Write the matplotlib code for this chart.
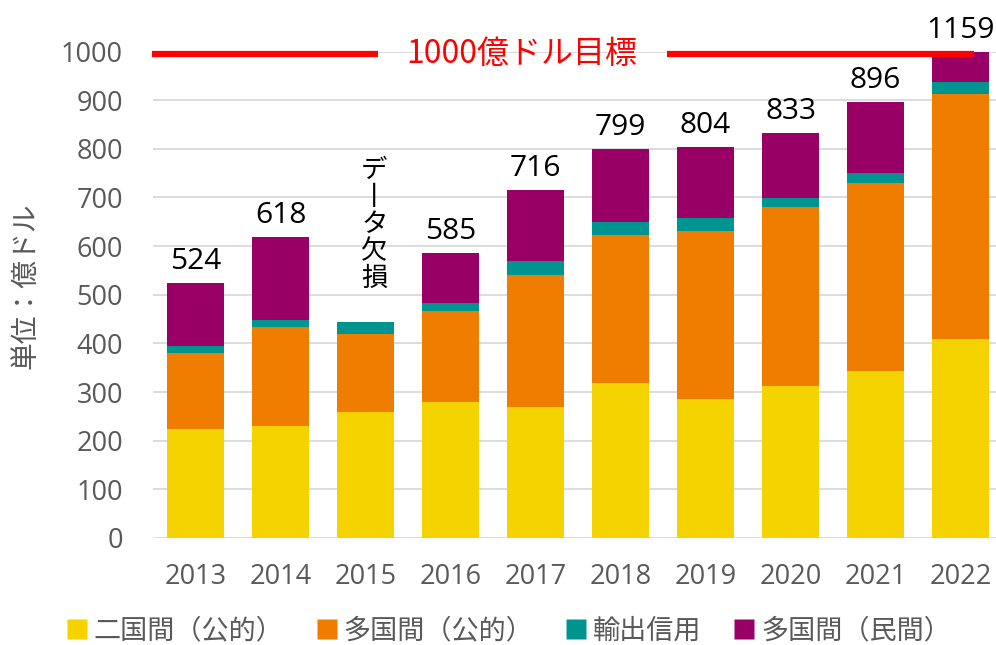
import matplotlib
matplotlib.use("Agg")
import matplotlib.pyplot as plt
from matplotlib.lines import Line2D
import numpy as np

plt.rcParams['font.family'] = ['Noto Sans CJK JP', 'DejaVu Sans']
num_font = ['Open Sans', 'Noto Sans CJK JP']

years = ['2013', '2014', '2015', '2016', '2017', '2018', '2019', '2020', '2021', '2022']
bilateral = [225, 230, 258, 279, 269, 318, 286, 313, 344, 409]
multilateral = [155, 204, 162, 188, 271, 305, 346, 367, 386, 504]
export_credit = [15, 15, 25, 16, 30, 27, 26, 19, 20, 25]
private = [129, 169, 0, 102, 146, 149, 146, 134, 146, 221]
totals = [524, 618, None, 585, 716, 799, 804, 833, 896, 1159]

series_names = ['二国間（公的）', '多国間（公的）', '輸出信用', '多国間（民間）']
colors = ['#F5D300', '#EF7D00', '#009490', '#990066']

gray = '#595959'

fig = plt.figure(figsize=(9.96, 6.45), dpi=100)
ax = fig.add_axes([0.154, 0.166, 0.853, 0.754])

x = np.arange(len(years))
bottom = np.zeros(len(years))
for vals, c in zip([bilateral, multilateral, export_credit, private], colors):
    ax.bar(x, vals, width=0.67, bottom=bottom, color=c, edgecolor='none', zorder=2)
    bottom += np.array(vals)

ax.set_ylim(0, 1000)
ax.set_xlim(-0.5, 9.5)
ax.set_yticks(range(0, 1001, 100))
ax.set_xticks(x)
ax.set_xticklabels(years)
ax.yaxis.grid(True, color='#d9d9d9', linewidth=1.3, zorder=0)
ax.set_axisbelow(True)
for s in ax.spines.values():
    s.set_visible(False)
ax.tick_params(axis='both', length=0, labelsize=19.5, labelcolor=gray)
ax.tick_params(axis='y', pad=22)
ax.tick_params(axis='x', pad=18)
for lab in ax.get_xticklabels() + ax.get_yticklabels():
    lab.set_family(num_font)

# total labels
for i, t in enumerate(totals):
    if t is None:
        continue
    ax.annotate(str(t), (i, min(t, 1000)), xytext=(0, 5), textcoords='offset points',
                ha='center', va='bottom', fontsize=21.5, color='black',
                family=num_font, annotation_clip=False)

# missing data note for 2015
ax.text(2.1, 644, 'デ\n丨\nタ\n欠\n損', ha='center', va='center', fontsize=19,
        linespacing=1.0, color='black')

# 1000 target line
ax.plot([-0.52, 2.14], [996, 996], color='#FF0000', linewidth=4.5, clip_on=False, zorder=5,
        solid_capstyle='butt')
ax.plot([5.55, 9.16], [996, 996], color='#FF0000', linewidth=4.5, clip_on=False, zorder=5,
        solid_capstyle='butt')
ax.text(3.83, 996, '1000億ドル目標', ha='center', va='center', fontsize=23, color='#FF0000',
        zorder=6)

fig.text(0.026, 0.557, '単位：億ドル', rotation=90, ha='center', va='center',
         fontsize=20, color=gray)

handles = [Line2D([], [], marker='s', linestyle='none', markersize=14,
                  markerfacecolor=c, markeredgecolor='none') for c in colors]
leg = fig.legend(handles, series_names, loc='center', bbox_to_anchor=(0.51, 0.022),
                 ncol=4, frameon=False, fontsize=19.5, handletextpad=0.15,
                 columnspacing=1.15, handlelength=0.9)
for t in leg.get_texts():
    t.set_color(gray)

fig.savefig('out.png', dpi=100)
